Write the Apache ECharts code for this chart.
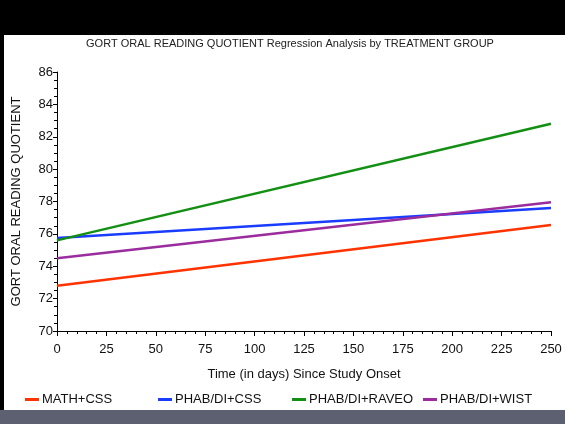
<!DOCTYPE html>
<html>
<head>
    <meta charset="utf-8">
    <title>GORT Regression</title>
    <script src="https://cdn.jsdelivr.net/npm/echarts@6/dist/echarts.min.js"></script>
    <style>
        html, body { margin: 0; padding: 0; background: #fff; }
        #chart { width: 565px; height: 424px; }
    </style>
</head>
<body>
    <div id="chart"></div>
    <script>
        // 数据
        const groups = ['MATH+CSS', 'PHAB/DI+CSS', 'PHAB/DI+RAVEO', 'PHAB/DI+WIST'];
        const colors = ['#ff3300', '#1a3cff', '#139013', '#9a2c9e'];
        const days = [0, 250];
        const mathCss = [72.8, 76.55];
        const phabCss = [75.75, 77.6];
        const phabRaveo = [75.6, 82.8];
        const phabWist = [74.5, 77.95];
        const seriesValues = [mathCss, phabCss, phabRaveo, phabWist];

        const legendLeft = [20, 153, 287, 418];
        const font = 'Liberation Sans, Arial, sans-serif';

        const chart = echarts.init(document.getElementById('chart'));

        chart.setOption({
            animation: false,
            title: {
                text: 'GORT ORAL READING QUOTIENT Regression Analysis by TREATMENT GROUP',
                left: 285, top: 33, textAlign: 'center',
                textStyle: { fontFamily: font, fontSize: 11, fontWeight: 'normal', color: '#222' }
            },
            graphic: [
                { type: 'rect', left: 0, top: 0, shape: { width: 565, height: 35 }, style: { fill: '#000' } },
                { type: 'rect', left: 0, top: 35, shape: { width: 4, height: 376 }, style: { fill: '#000' } },
                { type: 'rect', left: 0, top: 410, shape: { width: 565, height: 14 }, style: { fill: '#5d6070' } }
            ],
            legend: groups.map((g, i) => ({
                data: [g], left: legendLeft[i], top: 388,
                itemWidth: 14, itemHeight: 3, itemGap: 4, icon: 'rect',
                textStyle: { fontFamily: font, fontSize: 13, color: '#111', padding: [0, 0, 0, -2] }
            })),
            grid: { left: 57, right: 14, top: 72, bottom: 93 },
            xAxis: {
                type: 'value', min: 0, max: 250, interval: 25,
                name: 'Time (in days) Since Study Onset',
                nameLocation: 'middle', nameGap: 37,
                nameTextStyle: { fontFamily: font, fontSize: 13, color: '#111' },
                axisLine: { lineStyle: { color: '#000', width: 1 } },
                axisTick: { length: 5, lineStyle: { color: '#000' } },
                minorTick: { show: true, splitNumber: 5, length: 3, lineStyle: { color: '#000' } },
                axisLabel: { fontFamily: font, fontSize: 13, color: '#111', margin: 12 },
                splitLine: { show: false }
            },
            yAxis: {
                type: 'value', min: 70, max: 86, interval: 2,
                name: 'GORT ORAL READING QUOTIENT',
                nameLocation: 'middle', nameGap: 34, nameRotate: 90,
                nameTextStyle: { fontFamily: font, fontSize: 13, color: '#111' },
                axisLine: { show: true, lineStyle: { color: '#000', width: 1 } },
                axisTick: { show: true, length: 4, lineStyle: { color: '#000' } },
                minorTick: { show: true, splitNumber: 4, length: 3, lineStyle: { color: '#000' } },
                axisLabel: { fontFamily: font, fontSize: 13, color: '#111', margin: 4 },
                splitLine: { show: false }
            },
            series: groups.map((g, i) => ({
                name: g, type: 'line', showSymbol: false,
                color: colors[i],
                lineStyle: { width: 2.5, color: colors[i] },
                data: days.map((d, j) => [d, seriesValues[i][j]])
            }))
        });
    </script>
</body>
</html>
